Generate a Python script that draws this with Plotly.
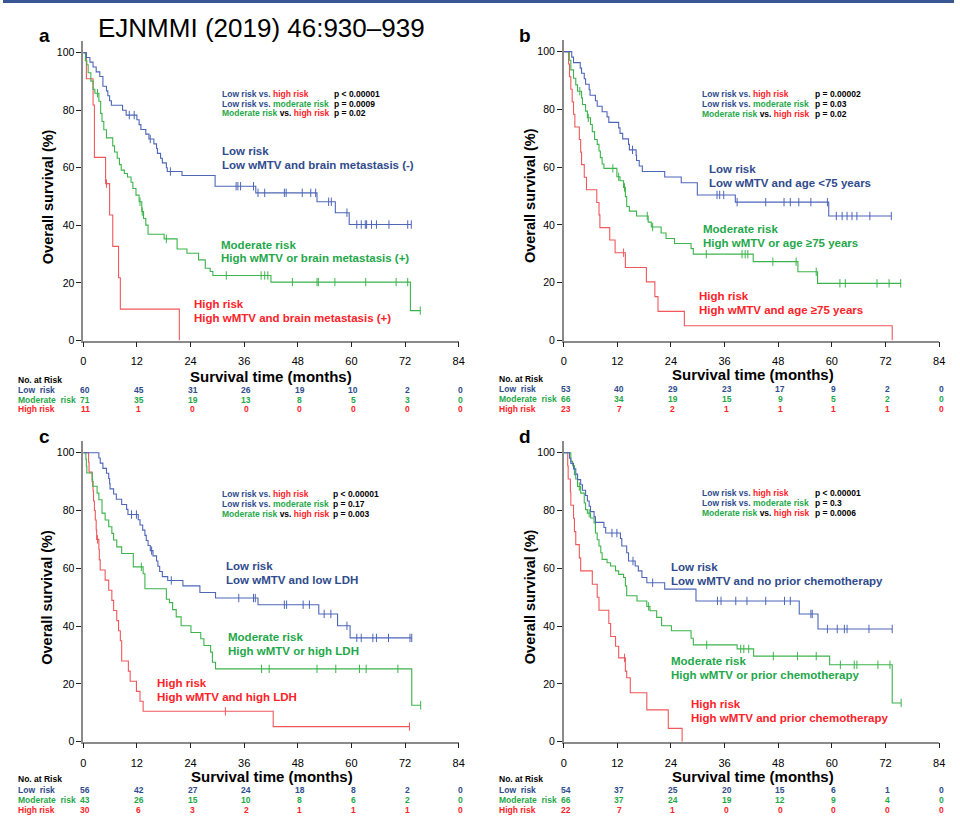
import numpy as np
import plotly.graph_objects as go

W, H = 960, 837
FONT = "Liberation Sans, Arial, Helvetica, sans-serif"

LINE = {"low": "#4d66b8", "mod": "#3cb44b", "high": "#f0585c"}
TEXT = {"low": "#2f4b8c", "mod": "#1fa84a", "high": "#ff2229"}

# ---------------- data ----------------
month_ticks = [0, 12, 24, 36, 48, 60, 72, 84]
surv_ticks = [0, 20, 40, 60, 80, 100]

# panel a: wMTV + brain metastasis
a_low_t = [0.7, 1.5, 2.2, 2.9, 3.7, 4.4, 5.2, 5.5, 5.9, 6.3, 8.8, 9.6, 12.0, 12.5, 12.9, 14.0, 14.7, 15.8, 16.4,
           16.6, 17.3, 17.7, 18.6, 18.8, 22.1, 29.5, 38.6, 52.3, 56.4, 59.5]
a_low_s = [98.3, 96.7, 95.0, 93.3, 91.7, 88.3, 86.7, 85.0, 83.3, 81.7, 80.0, 78.3, 76.7, 75.0, 73.3, 71.7, 70.0,
           68.3, 66.7, 65.0, 63.3, 61.7, 60.0, 58.7, 57.3, 53.6, 51.3, 48.2, 44.4, 40.3]
a_low_c = [10.3, 11.4, 15.0, 19.5, 34.2, 34.6, 35.2, 38.1, 39.1, 40.6, 45.0, 45.4, 49.0, 50.9, 52.0, 54.9, 55.5,
           59.0, 61.2, 62.2, 63.1, 63.4, 64.5, 65.6, 68.4, 72.6, 73.4]
a_mod_t = [0.5, 0.8, 1.1, 1.7, 2.2, 2.6, 3.5, 3.9, 4.2, 4.6, 5.2, 6.6, 7.0, 7.6, 8.1, 8.5, 9.2, 9.9, 10.7, 11.1,
           11.8, 12.5, 13.1, 13.5, 14.0, 14.5, 18.1, 21.0, 23.2, 25.8, 27.3, 28.4, 29.0, 42.0, 73.2]
a_mod_s = [97.2, 95.8, 93.0, 90.1, 87.3, 85.9, 83.1, 78.9, 76.1, 73.2, 70.4, 67.6, 65.5, 63.3, 61.1, 59.2, 58.0,
           56.8, 55.0, 52.8, 50.5, 48.2, 44.8, 42.4, 40.1, 36.9, 35.3, 31.8, 30.3, 28.0, 25.1, 24.0, 22.6, 20.3, 10.4]
a_mod_c = [3.2, 12.7, 13.2, 18.6, 32.0, 39.8, 40.6, 41.3, 46.8, 52.3, 52.6, 56.3, 63.2, 70.0, 72.6, 75.4]
a_high_t = [0.7, 2.2, 2.5, 5.0, 5.9, 6.6, 7.9, 8.3, 21.5]
a_high_s = [90.9, 81.8, 63.6, 54.5, 43.6, 32.7, 21.8, 10.9, 0.0]
a_high_c = [5.2]

# panel b: wMTV + age
b_low_t = [1.8, 2.2, 3.7, 4.0, 4.6, 4.9, 5.7, 5.9, 7.1, 7.5, 8.6, 9.7, 10.1, 12.3, 12.6, 13.2, 14.5, 14.7, 16.2,
           16.3, 16.9, 17.6, 22.6, 26.3, 29.9, 38.4, 59.3]
b_low_s = [98.1, 96.2, 94.3, 92.5, 90.6, 88.7, 86.8, 84.9, 83.0, 81.1, 79.2, 77.4, 75.5, 73.6, 71.7, 69.8, 67.9,
           66.0, 64.1, 62.3, 60.4, 58.5, 56.6, 54.6, 50.4, 47.9, 43.1]
b_low_c = [15.4, 34.3, 34.9, 35.8, 38.8, 45.2, 49.3, 50.7, 52.6, 55.3, 59.0, 61.0, 62.3, 63.4, 64.5, 65.6, 68.5, 73.3]
b_mod_t = [1.25, 1.6, 2.2, 2.7, 3.1, 4.0, 4.2, 4.9, 5.3, 6.0, 6.4, 6.9, 7.5, 7.9, 8.2, 8.6, 9.0, 11.9, 12.6, 13.4,
           13.8, 14.1, 14.7, 16.3, 18.9, 19.6, 21.8, 22.9, 24.8, 28.5, 29.0, 42.4, 52.4, 56.8]
b_mod_s = [97.0, 93.7, 90.8, 88.5, 86.3, 84.0, 81.7, 79.4, 77.1, 74.8, 72.3, 69.6, 67.9, 65.6, 63.3, 61.1, 59.6,
           56.7, 55.3, 53.0, 49.8, 46.4, 44.8, 43.1, 41.0, 39.3, 37.2, 35.3, 33.6, 31.8, 29.9, 27.3, 23.8, 19.8]
b_mod_c = [3.6, 5.5, 11.0, 12.3, 13.6, 18.7, 19.9, 31.9, 39.9, 40.6, 41.2, 46.8, 52.0, 56.5, 61.8, 63.0, 70.1,
           72.8, 75.4]
b_high_t = [1.1, 1.3, 1.6, 1.9, 2.2, 2.5, 3.5, 3.8, 4.0, 4.6, 5.1, 7.4, 7.9, 8.1, 10.3, 11.5, 13.8, 18.5, 20.4,
            21.1, 27.0, 73.5]
b_high_s = [95.7, 91.3, 87.0, 82.6, 78.3, 73.9, 69.6, 65.2, 60.9, 56.5, 52.2, 47.8, 43.5, 39.1, 34.8, 30.4, 25.3,
            20.3, 15.2, 10.1, 5.1, 0.0]
b_high_c = [13.4]

# panel c: wMTV + LDH
c_low_t = [3.5, 3.8, 4.4, 5.2, 5.7, 5.9, 6.0, 6.8, 7.4, 8.6, 9.7, 10.0, 12.3, 12.7, 13.3, 13.8, 14.1, 14.5, 15.0,
           15.6, 16.4, 16.7, 17.1, 17.7, 18.9, 22.3, 26.1, 29.6, 39.1, 52.7, 56.9, 59.7]
c_low_s = [98.2, 96.4, 94.6, 92.9, 91.1, 89.3, 87.5, 85.7, 83.9, 82.1, 80.4, 78.6, 76.8, 75.0, 73.2, 71.4, 69.6,
           67.9, 66.1, 64.3, 62.5, 60.7, 58.9, 57.1, 55.8, 53.9, 51.6, 49.7, 47.4, 44.2, 40.1, 35.9]
c_low_c = [10.8, 11.9, 15.3, 19.7, 34.8, 38.1, 38.5, 45.0, 45.5, 49.2, 50.6, 53.9, 55.4, 59.0, 61.2, 62.2, 64.8,
           65.6, 68.3, 73.1, 73.5]
c_mod_t = [0.6, 0.7, 0.8, 2.0, 2.1, 3.1, 3.5, 4.2, 4.9, 5.7, 6.4, 6.8, 7.5, 8.6, 11.2, 13.4, 13.8, 18.6, 19.3,
           20.0, 20.8, 21.9, 24.1, 26.3, 27.0, 28.5, 28.9, 29.6, 73.5]
c_mod_s = [97.7, 95.3, 93.0, 90.7, 88.4, 86.0, 83.7, 79.1, 76.7, 74.4, 72.1, 69.8, 67.4, 65.1, 60.5, 58.1, 52.9,
           49.3, 48.1, 45.7, 43.2, 40.1, 37.8, 35.6, 33.3, 31.0, 27.5, 25.2, 12.6]
c_mod_c = [13.0, 39.9, 41.6, 52.3, 56.5, 61.8, 63.3, 70.4, 75.5]
c_high_t = [1.2, 1.3, 2.0, 2.2, 2.3, 2.5, 2.7, 2.9, 3.0, 3.5, 3.6, 3.8, 4.9, 5.7, 6.4, 6.8, 7.5, 7.9, 8.3, 8.6,
            10.1, 10.5, 11.9, 12.7, 13.4, 42.5]
c_high_s = [96.7, 93.3, 90.0, 86.7, 83.3, 80.0, 76.7, 73.3, 70.0, 66.5, 62.9, 59.4, 55.9, 52.4, 48.9, 45.4, 41.9,
            38.4, 34.9, 27.9, 24.4, 20.9, 17.4, 14.0, 10.5, 5.2]
c_high_c = [3.2, 31.8, 73.0]

# panel d: wMTV + prior chemotherapy
d_low_t = [1.3, 1.6, 2.2, 2.7, 3.1, 3.8, 4.2, 4.9, 5.3, 5.7, 6.0, 6.8, 7.1, 9.0, 9.4, 12.7, 13.0, 14.1, 14.5,
           16.0, 16.7, 17.5, 18.6, 22.6, 29.6, 52.7, 56.9]
d_low_s = [98.1, 96.3, 94.4, 92.6, 90.7, 88.9, 87.0, 85.2, 83.3, 81.5, 79.6, 77.8, 75.9, 74.1, 72.2, 70.3, 67.7,
           65.4, 62.5, 60.8, 59.1, 56.8, 55.0, 52.8, 48.7, 44.2, 39.0]
d_low_c = [10.8, 11.9, 15.5, 19.9, 34.4, 35.2, 38.5, 41.0, 45.2, 49.4, 50.7, 55.3, 55.6, 59.0, 61.2, 62.8, 63.4,
           68.3, 73.5]
d_mod_t = [1.6, 2.0, 2.4, 2.7, 3.1, 3.8, 4.6, 4.9, 5.3, 6.0, 6.8, 7.1, 7.5, 7.9, 8.3, 8.6, 9.7, 10.5, 11.6, 12.3,
           13.4, 13.8, 14.1, 16.4, 18.6, 19.3, 20.8, 21.9, 24.1, 28.5, 29.0, 38.8, 42.5, 59.5, 73.5]
d_mod_s = [97.0, 95.5, 92.4, 90.9, 88.3, 86.0, 82.6, 80.3, 79.1, 77.4, 75.7, 72.2, 69.9, 67.7, 65.4, 63.1, 61.9,
           60.8, 59.1, 57.9, 56.8, 53.9, 50.5, 48.7, 46.8, 45.3, 43.0, 40.1, 38.4, 35.8, 33.5, 32.1, 29.6, 26.6, 13.4]
d_mod_c = [3.5, 5.7, 19.0, 32.0, 39.6, 40.3, 41.4, 46.9, 52.3, 56.5, 61.9, 65.0, 65.6, 70.3, 73.0, 75.5]
d_high_t = [0.9, 1.0, 1.5, 1.6, 2.2, 2.4, 2.7, 3.5, 3.8, 6.4, 7.5, 7.9, 10.1, 10.5, 11.6, 12.3, 13.8, 14.1, 14.9,
            18.6, 23.4, 26.5]
d_high_s = [95.5, 90.9, 86.4, 81.8, 77.3, 72.7, 68.2, 63.6, 59.1, 54.5, 50.0, 45.5, 40.9, 36.4, 33.0, 29.0, 24.4,
            22.1, 16.9, 11.0, 4.6, 0.0]
d_high_c = [13.6]

# numbers at risk at 0, 12, ..., 84 months
a_risk = {"low": [60, 45, 31, 26, 19, 10, 2, 0], "mod": [71, 35, 19, 13, 8, 5, 3, 0], "high": [11, 1, 0, 0, 0, 0, 0, 0]}
b_risk = {"low": [53, 40, 29, 23, 17, 9, 2, 0], "mod": [66, 34, 19, 15, 9, 5, 2, 0], "high": [23, 7, 2, 1, 1, 1, 1, 0]}
c_risk = {"low": [56, 42, 27, 24, 18, 8, 2, 0], "mod": [43, 26, 15, 10, 8, 6, 2, 0], "high": [30, 6, 3, 2, 1, 1, 1, 0]}
d_risk = {"low": [54, 37, 25, 20, 15, 6, 1, 0], "mod": [66, 37, 24, 19, 12, 9, 4, 0], "high": [22, 7, 1, 0, 0, 0, 0, 0]}

# log-rank p values: low vs high, low vs moderate, moderate vs high
a_p = ["p &lt; 0.00001", "p = 0.0009", "p = 0.02"]
b_p = ["p = 0.00002", "p = 0.03", "p = 0.02"]
c_p = ["p &lt; 0.00001", "p = 0.17", "p = 0.003"]
d_p = ["p &lt; 0.00001", "p = 0.3", "p = 0.0006"]

a_groups = ["Low wMTV and brain metastasis (-)", "High wMTV or brain metastasis (+)",
            "High wMTV and brain metastasis (+)"]
b_groups = ["Low wMTV and age &lt;75 years", "High wMTV or age ≥75 years", "High wMTV and age ≥75 years"]
c_groups = ["Low wMTV and low LDH", "High wMTV or high LDH", "High wMTV and high LDH"]
d_groups = ["Low wMTV and no prior chemotherapy", "High wMTV or prior chemotherapy",
            "High wMTV and prior chemotherapy"]

panel_data = {
    "a": {"curves": {"low": (a_low_t, a_low_s, a_low_c), "mod": (a_mod_t, a_mod_s, a_mod_c),
                     "high": (a_high_t, a_high_s, a_high_c)}, "risk": a_risk, "p": a_p, "groups": a_groups},
    "b": {"curves": {"low": (b_low_t, b_low_s, b_low_c), "mod": (b_mod_t, b_mod_s, b_mod_c),
                     "high": (b_high_t, b_high_s, b_high_c)}, "risk": b_risk, "p": b_p, "groups": b_groups},
    "c": {"curves": {"low": (c_low_t, c_low_s, c_low_c), "mod": (c_mod_t, c_mod_s, c_mod_c),
                     "high": (c_high_t, c_high_s, c_high_c)}, "risk": c_risk, "p": c_p, "groups": c_groups},
    "d": {"curves": {"low": (d_low_t, d_low_s, d_low_c), "mod": (d_mod_t, d_mod_s, d_mod_c),
                     "high": (d_high_t, d_high_s, d_high_c)}, "risk": d_risk, "p": d_p, "groups": d_groups},
}

# ---------------- layout geometry (pixels) ----------------
geom = {
    "a": dict(ax=1, x0=81, x1=460, y100=53, y0=343, lab=(42, 36), ytit=45, xtit=(271, 379),
              plx=(220, 333), ply=(95, 105, 114), grp=[(220, 152, 166), (219, 247, 260), (192, 306, 320)],
              tab_x=14, tab_y=(383, 393, 403, 412)),
    "b": dict(ax=2, x0=566, x1=945, y100=52, y0=343, lab=(527, 36), ytit=532, xtit=(757, 377),
              plx=(705, 819), ply=(95, 105, 115), grp=[(712, 170, 184), (706, 231, 245), (702, 298, 312)],
              tab_x=500, tab_y=(382, 392, 402, 412)),
    "c": dict(ax=3, x0=81, x1=460, y100=456, y0=747, lab=(42, 440), ytit=45, xtit=(272, 782),
              plx=(220, 332), ply=(498, 508, 518), grp=[(224, 570, 584), (226, 642, 656), (154, 688, 702)],
              tab_x=14, tab_y=(785, 796, 806, 816)),
    "d": dict(ax=4, x0=566, x1=945, y100=456, y0=747, lab=(527, 440), ytit=532, xtit=(757, 782),
              plx=(705, 819), ply=(497, 507, 517), grp=[(673, 571, 585), (673, 666, 680), (693, 709, 723)],
              tab_x=500, tab_y=(785, 796, 806, 816)),
}
Y_TOP = 104


def fx(px):
    return px / W


def fy(py):
    return 1 - py / H


fig = go.Figure()
annotations = []


def add_text(text, px, py, size, color="black", xanchor="left", bold=True, angle=0):
    annotations.append(dict(
        text=f"<b>{text}</b>" if bold else text, x=fx(px), y=fy(py), xref="paper", yref="paper",
        xanchor=xanchor, yanchor="middle", showarrow=False, textangle=angle,
        font=dict(family=FONT, size=size, color=color), borderpad=0))


for key, pd_ in panel_data.items():
    g = geom[key]
    n = g["ax"]
    xa = "x" if n == 1 else f"x{n}"
    ya = "y" if n == 1 else f"y{n}"
    top_px = g["y0"] - Y_TOP / 100 * (g["y0"] - g["y100"])

    fig.layout[f"xaxis{'' if n == 1 else n}"] = dict(
        domain=[fx(g["x0"]), fx(g["x1"])], range=[0, 84], anchor=ya, tickvals=month_ticks,
        ticks="outside", ticklen=5, tickwidth=1, tickcolor="#222", showline=True, linecolor="#8a8a8a",
        linewidth=1.5, showgrid=False, zeroline=False, ticklabelstandoff=5,
        tickfont=dict(family=FONT, size=11, color="black"), fixedrange=True)
    fig.layout[f"yaxis{'' if n == 1 else n}"] = dict(
        domain=[fy(g["y0"]), fy(top_px)], range=[0, Y_TOP], anchor=xa, tickvals=surv_ticks,
        ticks="outside", ticklen=5, tickwidth=1, tickcolor="#222", showline=True, linecolor="#8a8a8a",
        linewidth=1.5, showgrid=False, zeroline=False, tickfont=dict(family=FONT, size=10.5, color="black"),
        fixedrange=True)

    # Kaplan-Meier step curves and censor marks
    for grp in ["high", "mod", "low"]:
        t, s, c = pd_["curves"][grp]
        t_full = [0.0] + list(t)
        s_full = [100.0] + list(s)
        end = max(max(t), max(c))
        fig.add_trace(go.Scatter(x=t_full + [end], y=s_full + [s_full[-1]], mode="lines",
                                 line=dict(color=LINE[grp], width=1.1, shape="hv"),
                                 xaxis=xa, yaxis=ya, showlegend=False, hoverinfo="skip"))
        idx = np.searchsorted(np.array(t_full), np.array(c), side="right") - 1
        cy = np.array(s_full)[idx]
        fig.add_trace(go.Scatter(x=c, y=cy, mode="markers",
                                 marker=dict(symbol="line-ns", size=6, line=dict(color=LINE[grp], width=1)),
                                 xaxis=xa, yaxis=ya, showlegend=False, hoverinfo="skip"))

    # panel letter
    add_text(key, g["lab"][0], g["lab"][1], 19, xanchor="center")
    # axis titles
    add_text("Overall survival (%)", g["ytit"], (g["y0"] + g["y100"]) / 2, 14.5, xanchor="center", angle=-90)
    add_text("Survival time (months)", g["xtit"][0], g["xtit"][1], 15, xanchor="center")

    # p-value block
    lo, md, hi = TEXT["low"], TEXT["mod"], TEXT["high"]
    left_parts = [
        f"<span style='color:{lo}'>Low risk vs. </span><span style='color:{hi}'>high risk</span>",
        f"<span style='color:{lo}'>Low risk vs. </span><span style='color:{md}'>moderate risk</span>",
        f"<span style='color:{md}'>Moderate risk </span><span style='color:black'>vs. </span>"
        f"<span style='color:{hi}'>high risk</span>",
    ]
    for i in range(3):
        add_text(left_parts[i], g["plx"][0], g["ply"][i], 8.5)
        add_text(pd_["p"][i], g["plx"][1], g["ply"][i], 8.5)

    # group labels
    names = ["Low risk", "Moderate risk", "High risk"]
    for i, grp in enumerate(["low", "mod", "high"]):
        gx, gy1, gy2 = g["grp"][i]
        add_text(names[i], gx, gy1, 11.5, color=TEXT[grp])
        add_text(pd_["groups"][i], gx, gy2, 11.5, color=TEXT[grp])

    # numbers-at-risk table
    add_text("No. at Risk", g["tab_x"], g["tab_y"][0], 8.5)
    row_names = ["Low\u00a0\u00a0risk", "Moderate\u00a0\u00a0risk", "High risk"]
    for i, grp in enumerate(["low", "mod", "high"]):
        ry = g["tab_y"][i + 1]
        add_text(row_names[i], g["tab_x"], ry, 8.5, color=TEXT[grp])
        for m, v in zip(month_ticks, pd_["risk"][grp]):
            annotations.append(dict(
                text=f"<b>{v}</b>", x=m, y=fy(ry), xref=xa, yref="paper", xanchor="center",
                yanchor="middle", xshift=2, showarrow=False, borderpad=0,
                font=dict(family=FONT, size=8.5, color=TEXT[grp])))

# journal header
add_text("EJNMMI (2019) 46:930–939", 95, 28, 26, bold=False)

fig.update_layout(
    width=W, height=H, margin=dict(l=0, r=0, t=0, b=0),
    paper_bgcolor="white", plot_bgcolor="white", showlegend=False,
    annotations=annotations,
    shapes=[dict(type="rect", xref="paper", yref="paper", x0=0, x1=1, y0=fy(3), y1=1,
                 fillcolor="#3a5795", line=dict(width=0))],
)

fig.write_html("out.html")
